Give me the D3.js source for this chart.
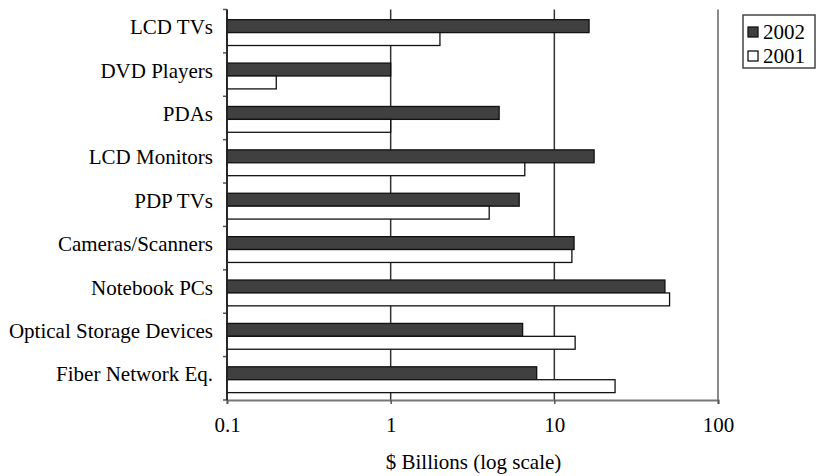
<!DOCTYPE html>
<html>
<head>
<meta charset="utf-8">
<script src="https://cdn.jsdelivr.net/npm/d3@7/dist/d3.min.js"></script>
<style>
  html, body { margin: 0; padding: 0; background: #fff; }
  svg { display: block; }
  text { font-family: "Liberation Serif", "Times New Roman", serif; fill: #000; }
</style>
</head>
<body>
<svg id="chart" width="816" height="476"></svg>
<script>
// Market size by product, $ billions
const categories = ["LCD TVs", "DVD Players", "PDAs", "LCD Monitors", "PDP TVs",
  "Cameras/Scanners", "Notebook PCs", "Optical Storage Devices", "Fiber Network Eq."];
const years = ["2002", "2001"];
const values2002 = [16.3, 1.0, 4.6, 17.5, 6.1, 13.2, 47.4, 6.4, 7.8];
const values2001 = [2.0, 0.2, 1.0, 6.6, 4.0, 12.8, 50.6, 13.4, 23.5];
const xTicks = [0.1, 1, 10, 100];
const xTickLabels = ["0.1", "1", "10", "100"];
const axisTitle = "$ Billions (log scale)";

const seriesFill = { "2002": "#404040", "2001": "#ffffff" };
const fontSize = 21;

const svg = d3.select("#chart");
const plotLeft = 227, plotRight = 718, plotTop = 9.5, plotBottom = 400;

const x = d3.scaleLog().domain([0.1, 100]).range([plotLeft, plotRight]);
const y = d3.scaleBand().domain(categories).range([plotTop, plotBottom]);
const bw = y.bandwidth();
const inner = d3.scaleBand().domain(years).range([bw * 0.235, bw * 0.83]);

// vertical gridlines at each decade
svg.append("g").selectAll("line").data(xTicks).join("line")
  .attr("x1", d => x(d)).attr("x2", d => x(d))
  .attr("y1", plotTop).attr("y2", plotBottom)
  .attr("stroke", d => d === 100 ? "#8a8a8a" : "#333")
  .attr("stroke-width", d => d === 100 ? 2 : 1.5);

// bars
const rows = categories.map((c, i) => ({ cat: c, vals: { "2002": values2002[i], "2001": values2001[i] } }));
const groups = svg.append("g").selectAll("g").data(rows).join("g")
  .attr("transform", d => `translate(0,${y(d.cat)})`);
groups.selectAll("rect").data(d => years.map(k => ({ key: k, v: d.vals[k] }))).join("rect")
  .attr("x", x(0.1))
  .attr("y", d => inner(d.key))
  .attr("width", d => x(d.v) - x(0.1))
  .attr("height", inner.bandwidth())
  .attr("fill", d => seriesFill[d.key])
  .attr("stroke", "#111")
  .attr("stroke-width", 1.3);

// x axis
const xAxis = d3.axisBottom(x).tickValues(xTicks).tickFormat((d, i) => xTickLabels[i]).tickSize(4).tickPadding(13);
const gx = svg.append("g").attr("transform", `translate(0,${plotBottom})`).call(xAxis);
gx.select(".domain").attr("stroke", "#777").attr("stroke-width", 2);
gx.selectAll(".tick line").attr("stroke", "#555").attr("stroke-width", 1.5);
gx.selectAll(".tick text").attr("font-family", "Liberation Serif").attr("font-size", fontSize).attr("fill", "#000");

// y axis: ticks at band boundaries
const boundaries = categories.map(c => y(c)).concat([plotBottom]);
svg.append("g").selectAll("line").data(boundaries).join("line")
  .attr("x1", plotLeft - 4).attr("x2", plotLeft)
  .attr("y1", d => d).attr("y2", d => d)
  .attr("stroke", "#555").attr("stroke-width", 1.5);
svg.append("line").attr("x1", plotLeft).attr("x2", plotLeft).attr("y1", plotTop).attr("y2", plotBottom)
  .attr("stroke", "#222").attr("stroke-width", 1.7);

svg.append("g").selectAll("text").data(categories).join("text")
  .attr("x", plotLeft - 14)
  .attr("y", d => y(d) + bw / 2 + 3)
  .attr("text-anchor", "end")
  .attr("font-size", fontSize)
  .text(d => d);

// axis title
svg.append("text")
  .attr("x", (plotLeft + plotRight) / 2 + 1).attr("y", 469)
  .attr("text-anchor", "middle").attr("font-size", fontSize)
  .text(axisTitle);

// legend
const lg = svg.append("g").attr("transform", "translate(743,15)");
lg.append("rect").attr("x", 0).attr("y", 0).attr("width", 72).attr("height", 53)
  .attr("fill", "#fff").attr("stroke", "#444").attr("stroke-width", 1.5);
years.forEach((k, i) => {
  const row = lg.append("g").attr("transform", `translate(0,${15 + i * 24})`);
  row.append("rect").attr("x", 5).attr("y", -3).attr("width", 10).attr("height", 10)
    .attr("fill", seriesFill[k]).attr("stroke", "#111").attr("stroke-width", 1.3);
  row.append("text").attr("x", 20).attr("y", 2).attr("dy", "0.35em")
    .attr("font-size", fontSize).text(k);
});
</script>
</body>
</html>
